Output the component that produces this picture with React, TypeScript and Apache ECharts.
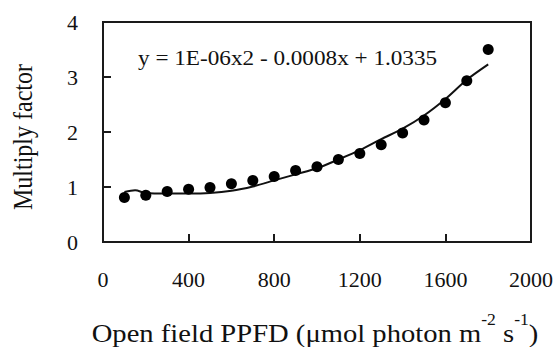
import React, { useEffect, useRef } from "react";
import * as echarts from "echarts";

const ppfd = [100, 200, 300, 400, 500, 600, 700, 800, 900, 1000, 1100, 1200, 1300, 1400, 1500, 1600, 1700, 1800];
const factor = [0.81, 0.85, 0.92, 0.96, 0.99, 1.06, 1.12, 1.19, 1.3, 1.37, 1.5, 1.61, 1.77, 1.98, 2.22, 2.53, 2.93, 3.5];
const fitX = [100, 150, 200, 300, 400, 500, 600, 700, 800, 900, 1000, 1100, 1200, 1300, 1400, 1500, 1600, 1700, 1800];
const fitY = [0.91, 0.94, 0.89, 0.88, 0.88, 0.89, 0.93, 1.01, 1.12, 1.23, 1.34, 1.5, 1.67, 1.87, 2.06, 2.3, 2.6, 2.95, 3.23];
const equation = "y = 1E-06x2 - 0.0008x + 1.0335";
const xTitle = "Open field PPFD (\u03bcmol photon m{sup|-2} s{sup|-1})";
const yTitle = "Multiply factor";

const FONT = "'Liberation Serif', 'Times New Roman', serif";

export default function App() {
  const ref = useRef<HTMLDivElement>(null);
  useEffect(() => {
    if (!ref.current) return;
    const chart = echarts.init(ref.current, undefined, { renderer: "svg" });
    const axisCol = "#1a1a1a";
    chart.setOption({
      animation: false,
      backgroundColor: "#fff",
      textStyle: { fontFamily: FONT },
      grid: {
        left: 103,
        top: 22,
        right: 25,
        bottom: 105,
        show: true,
        borderColor: axisCol,
        borderWidth: 2,
        containLabel: false,
        outerBoundsMode: "none",
      },
      xAxis: {
        type: "value",
        min: 0,
        max: 2000,
        interval: 400,
        axisLine: { show: true, lineStyle: { color: axisCol, width: 2 } },
        axisTick: { show: true, inside: true, length: 8, lineStyle: { color: axisCol, width: 2 } },
        splitLine: { show: false },
        axisLabel: {
          color: "#111",
          fontFamily: FONT,
          fontSize: 22,
          margin: 26,
          formatter: (v: number) => String(v),
        },
      },
      yAxis: {
        type: "value",
        min: 0,
        max: 4,
        interval: 1,
        axisLine: { show: true, lineStyle: { color: axisCol, width: 2 } },
        axisTick: { show: true, inside: true, length: 8, lineStyle: { color: axisCol, width: 2 } },
        splitLine: { show: false },
        axisLabel: {
          color: "#111",
          fontFamily: FONT,
          fontSize: 22,
          margin: 25,
          formatter: (v: number) => String(v),
        },
      },
      graphic: [
        {
          type: "text",
          x: 138,
          y: 59,
          scaleX: 1.16,
          style: {
            text: equation,
            fontFamily: FONT,
            fontSize: 20,
            fill: "#111",
            align: "left",
            verticalAlign: "middle",
          },
        },
        {
          type: "text",
          x: 315,
          y: 333,
          scaleX: 1.1,
          style: {
            text: xTitle,
            fontFamily: FONT,
            fontSize: 26,
            fill: "#111",
            align: "center",
            verticalAlign: "middle",
            rich: {
              sup: { fontFamily: FONT, fontSize: 16, fill: "#111", padding: [0, 0, 26, 0] },
            },
          },
        },
        {
          type: "text",
          x: 23,
          y: 137,
          rotation: Math.PI / 2,
          scaleY: 1.16,
          style: {
            text: yTitle,
            fontFamily: FONT,
            fontSize: 24,
            fill: "#111",
            align: "center",
            verticalAlign: "middle",
          },
        },
      ],
      series: [
        {
          type: "line",
          data: fitX.map((x, i) => [x, fitY[i]]),
          smooth: 0.3,
          showSymbol: false,
          lineStyle: { color: "#111", width: 2 },
          z: 2,
        },
        {
          type: "scatter",
          data: ppfd.map((x, i) => [x, factor[i]]),
          symbol: "circle",
          symbolSize: 11,
          itemStyle: { color: "#000", opacity: 1 },
          z: 3,
        },
      ],
    });
    return () => chart.dispose();
  }, []);
  return (
    <div
      ref={ref}
      style={{ position: "absolute", left: 0, top: 0, width: 556, height: 347, background: "#fff" }}
    />
  );
}
